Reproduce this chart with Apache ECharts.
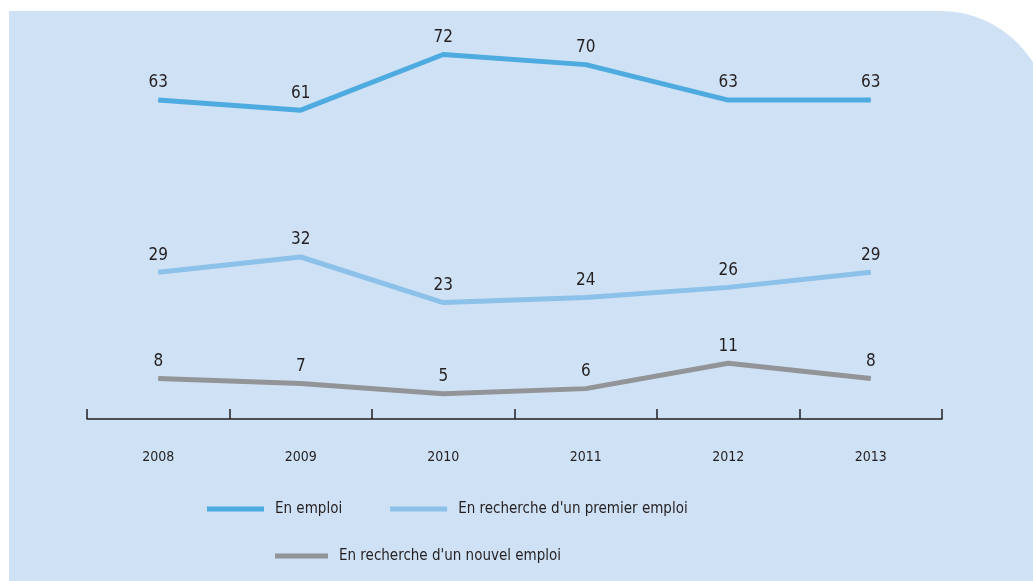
<!DOCTYPE html>
<html>
<head>
<meta charset="utf-8">
<script src="https://cdn.jsdelivr.net/npm/echarts@6/dist/echarts.min.js"></script>
<style>
  html, body { margin: 0; padding: 0; background: #fff; overflow: hidden; }
  #bg {
    position: absolute; left: 9px; top: 11px; width: 1041px; height: 570px;
    background: #cfe1f4; border-top-right-radius: 110px;
  }
  #chart { position: absolute; left: 0; top: 0; width: 1033px; height: 581px; }
</style>
</head>
<body>
<div id="bg"></div>
<div id="chart"></div>
<script>
// chart data
var years = ['2008', '2009', '2010', '2011', '2012', '2013']
var enEmploi = [63, 61, 72, 70, 63, 63]
var premierEmploi = [29, 32, 23, 24, 26, 29]
var nouvelEmploi = [8, 7, 5, 6, 11, 8]
var seriesNames = ['En emploi', "En recherche d'un premier emploi", "En recherche d'un nouvel emploi"]
var colorArr = ['#4eabe0', '#8cc1e9', '#929497']

var fontName = "'DejaVu Sans Condensed', 'Open Sans', sans-serif"

function makeSeries (name, data, color) {
  return {
    name: name,
    type: 'line',
    data: data,
    symbol: 'circle',
    symbolSize: 1,
    showSymbol: true,
    lineStyle: { color: color, width: 5, cap: 'butt' },
    itemStyle: { color: color },
    label: {
      show: true,
      position: 'top',
      distance: 8,
      color: '#231f20',
      fontSize: 17,
      fontFamily: fontName
    },
    emphasis: { disabled: true },
    animation: false
  }
}

var legendText = { color: '#231f20', fontSize: 15, lineHeight: 16, fontFamily: fontName, padding: [0, 0, 0, 6] }

var chart = echarts.init(document.getElementById('chart'))
chart.setOption({
  textStyle: { fontFamily: fontName },
  grid: { left: 87, right: 91, top: 14, bottom: 162 },
  xAxis: {
    type: 'category',
    data: years,
    boundaryGap: true,
    axisLine: { show: true, lineStyle: { color: '#231f20', width: 1.5 } },
    axisTick: { show: true, inside: true, length: 10, interval: 0, lineStyle: { color: '#231f20', width: 1.5 } },
    axisLabel: { margin: 31, color: '#231f20', fontSize: 14, fontFamily: fontName }
  },
  yAxis: { type: 'value', min: 0, max: 80, show: false },
  legend: [
    {
      data: [seriesNames[0], seriesNames[1]],
      top: 501,
      left: 207,
      padding: 0,
      itemWidth: 57,
      itemHeight: 5,
      itemGap: 48,
      icon: 'rect',
      textStyle: legendText
    },
    {
      data: [seriesNames[2]],
      top: 548,
      left: 275,
      padding: 0,
      itemWidth: 53,
      itemHeight: 5,
      icon: 'rect',
      textStyle: legendText
    }
  ],
  series: [
    makeSeries(seriesNames[0], enEmploi, colorArr[0]),
    makeSeries(seriesNames[1], premierEmploi, colorArr[1]),
    makeSeries(seriesNames[2], nouvelEmploi, colorArr[2])
  ]
})
</script>
</body>
</html>
